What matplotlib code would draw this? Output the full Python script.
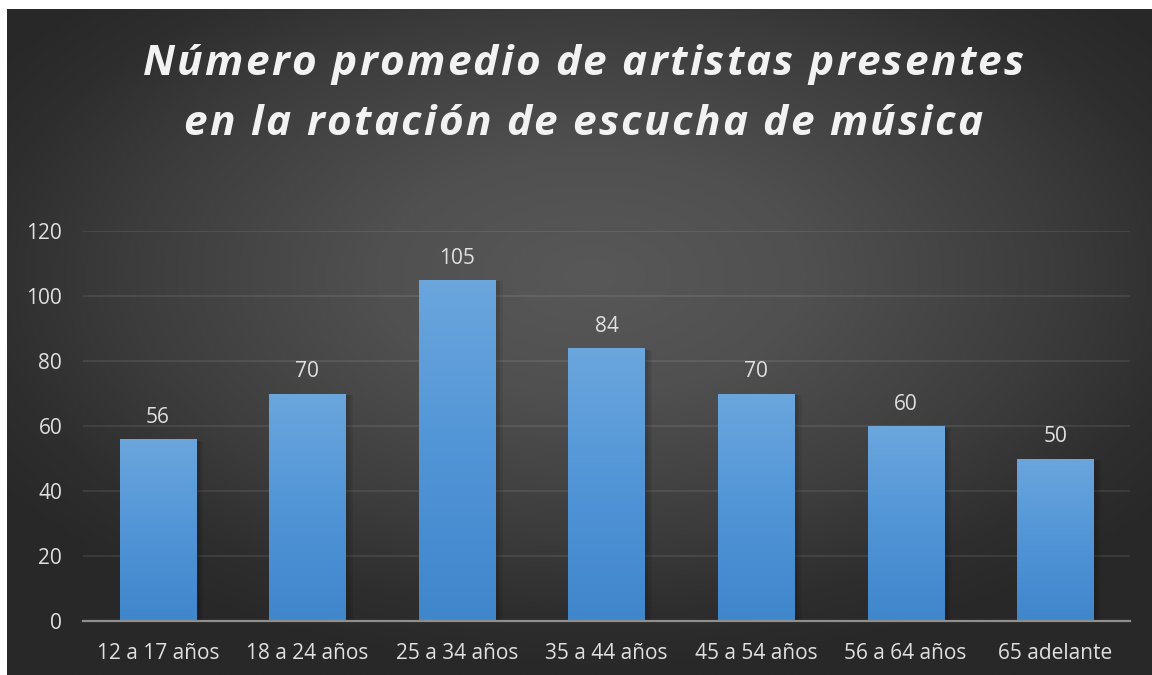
import numpy as np
import matplotlib
matplotlib.use('Agg')
import matplotlib.pyplot as plt
from matplotlib.colors import LinearSegmentedColormap
from matplotlib.patches import Rectangle
from matplotlib.font_manager import FontProperties, findfont, get_font

# Average number of artists in listening rotation, by age group
categories = ['12 a 17 años', '18 a 24 años', '25 a 34 años', '35 a 44 años',
              '45 a 54 años', '56 a 64 años', '65 adelante']
values = [56, 70, 105, 84, 70, 60, 50]
y_ticks = [0, 20, 40, 60, 80, 100, 120]
title_lines = ['Número promedio de artistas presentes',
               'en la rotación de escucha de música']

W, H, DPI = 1152, 675, 100
plt.rcParams['font.family'] = ['Open Sans', 'DejaVu Sans']

fig = plt.figure(figsize=(W / DPI, H / DPI), dpi=DPI, facecolor='white')

# dark radial background panel
bg = fig.add_axes([7 / W, 0, 1 - 7 / W, 1 - 9 / H], zorder=0)
gx, gy = np.meshgrid(np.linspace(-1, 1, 600), np.linspace(-1, 1, 350))
r = np.sqrt(((gx - 0.02) / 1.25) ** 2 + ((gy + 0.2) / 1.2) ** 2)
bg_cmap = LinearSegmentedColormap.from_list(
    'bg', [(0, '#585858'), (0.3, '#505050'), (0.65, '#3c3c3c'), (0.85, '#2e2e2e'), (1, '#282828')])
bg.imshow(np.clip(r, 0, 1.0), cmap=bg_cmap, aspect='auto', extent=[0, 1, 0, 1],
          interpolation='bilinear', vmin=0, vmax=1.0)
bg.set_axis_off()

ax = fig.add_axes([83 / W, 54 / H, (1130 - 83) / W, (621 - 231) / H], zorder=1)
ax.patch.set_alpha(0)

x = np.arange(len(categories))
bars = ax.bar(x, values, width=0.51, color='none', zorder=3)

bar_cmap = LinearSegmentedColormap.from_list('bar', ['#4086cb', '#5195d7', '#6ba6dd'])
grad = np.linspace(0, 1, 256).reshape(-1, 1)
for b in bars:
    x0, w, h = b.get_x(), b.get_width(), b.get_height()
    # soft shadow to the right of each bar
    for k, a in zip([0.08, 0.05, 0.03], [0.07, 0.06, 0.05]):
        ax.add_patch(Rectangle((x0 + 0.01, 0), w + k * 0.5, h - 0.5, color='black',
                               alpha=a, lw=0, zorder=2))
    im = ax.imshow(grad, cmap=bar_cmap, origin='lower', aspect='auto',
                   extent=[x0, x0 + w, 0, h], zorder=3)
    im.set_clip_path(b)
    ax.annotate(f'{h:g}', (x0 + w / 2, h), xytext=(0, 8), textcoords='offset points',
                ha='center', va='bottom', color='#e0e0e0', fontsize=15)

ax.set_xlim(-0.5, len(categories) - 0.5)
ax.set_ylim(0, 120)
ax.set_yticks(y_ticks)
ax.set_xticks(x)
ax.set_xticklabels(categories)
ax.tick_params(axis='both', length=0, colors='#e0e0e0', labelsize=15)
ax.tick_params(axis='y', pad=15)
ax.tick_params(axis='x', pad=16)
ax.yaxis.grid(True, color='white', alpha=0.09, lw=1.3, zorder=0)
ax.set_axisbelow(True)
for s in ['top', 'right', 'left']:
    ax.spines[s].set_visible(False)
ax.spines['bottom'].set_color('#8f8f8f')
ax.spines['bottom'].set_linewidth(1.6)
ax.spines['bottom'].set_zorder(4)

# letter-spaced title, drawn glyph by glyph
fp = FontProperties(family='Open Sans', weight='bold', style='italic', size=30.5)
font = get_font(findfont(fp))
font.set_size(30.5, DPI)
spacing = 2.25
for line, base_y in zip(title_lines, [75, 135]):
    adv = [font.load_char(ord(c)).linearHoriAdvance / 65536 for c in line]
    total = sum(adv) + spacing * (len(line) - 1)
    px = 583 - total / 2
    for c, a in zip(line, adv):
        fig.text(px / W, 1 - base_y / H, c, fontproperties=fp, color='#f2f2f2',
                 ha='left', va='baseline', zorder=5)
        px += a + spacing

fig.savefig('out.png', dpi=DPI, facecolor='white')
